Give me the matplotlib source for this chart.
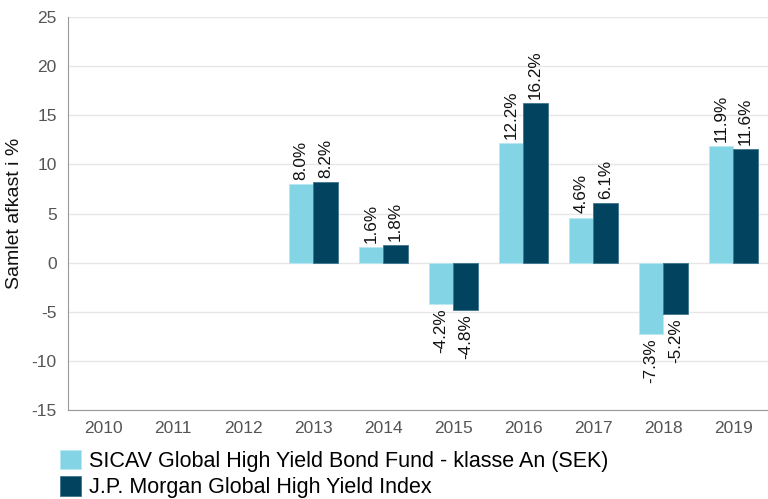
import numpy as np
import matplotlib.pyplot as plt

plt.rcParams['font.family'] = ['Liberation Sans', 'DejaVu Sans']
plt.rcParams['axes.unicode_minus'] = False

years = ['2010', '2011', '2012', '2013', '2014', '2015', '2016', '2017', '2018', '2019']
fund = [np.nan, np.nan, np.nan, 8.0, 1.6, -4.2, 12.2, 4.6, -7.3, 11.9]
index = [np.nan, np.nan, np.nan, 8.2, 1.8, -4.8, 16.2, 6.1, -5.2, 11.6]
fund_name = 'SICAV Global High Yield Bond Fund - klasse An (SEK)'
index_name = 'J.P. Morgan Global High Yield Index'

light = '#83d5e6'
dark = '#02435f'

fig = plt.figure(figsize=(7.68, 4.99), dpi=100)
ax = fig.add_axes([0.0885, 0.178, 0.912, 0.788])

x = np.arange(len(years))
w = 0.35
b1 = ax.bar(x - w / 2, fund, w, color=light, edgecolor='#b8e8f2', linewidth=0.6, label=fund_name, zorder=3)
b2 = ax.bar(x + w / 2, index, w, color=dark, edgecolor='#3d7690', linewidth=0.6, label=index_name, zorder=3)

for bars, vals in ((b1, fund), (b2, index)):
    for rect, v in zip(bars, vals):
        if np.isnan(v):
            continue
        xc = rect.get_x() + rect.get_width() / 2
        ax.annotate(f'{v:.1f}%', (xc, v), xytext=(0, 3 if v > 0 else -3),
                    textcoords='offset points', rotation=90, ha='center',
                    va='bottom' if v > 0 else 'top', fontsize=12.3, color='#111111')

ax.set_xlim(-0.5, 9.5)
ax.set_ylim(-15, 25)
ax.set_yticks(range(-15, 26, 5))
ax.set_xticks(x)
ax.set_xticklabels(years)
ax.tick_params(length=0, labelsize=12.5, labelcolor='#555555', pad=8)
ax.grid(axis='y', color='#e6e6e6', linewidth=1, zorder=0)
ax.set_axisbelow(True)
for s in ('top', 'right'):
    ax.spines[s].set_visible(False)
for s in ('left', 'bottom'):
    ax.spines[s].set_color('#999999')
ax.set_ylabel('Samlet afkast i %', fontsize=14, color='#111111', labelpad=6)

fig.legend(handles=[b1, b2], loc='upper left', bbox_to_anchor=(0.078, 0.098),
           frameon=False, fontsize=15.5, handlelength=1.0, handleheight=1.0,
           handletextpad=0.35, labelspacing=0.2, borderpad=0, borderaxespad=0)

fig.savefig('out.png', dpi=100)
